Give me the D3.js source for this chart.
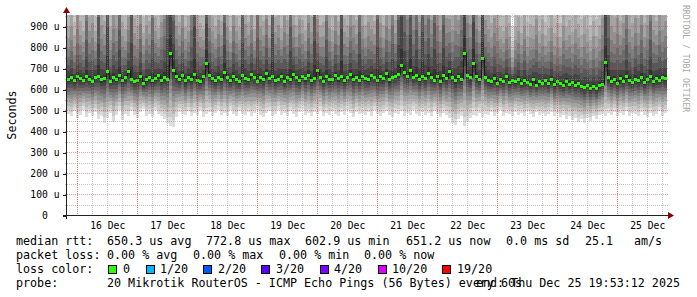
<!DOCTYPE html>
<html>
<head>
<meta charset="utf-8">
<script src="https://cdn.jsdelivr.net/npm/d3@7"></script>
<style>
  body { margin: 0; background: #fff; }
  svg text { font-family: "DejaVu Sans Mono", monospace; fill: #000; }
</style>
</head>
<body>
<div id="chart"></div>
<script>
// median rtt per 72-minute step (us)
const median = [
  648, 655, 641, 660, 652, 645, 662, 650, 638, 657,
  664, 646, 653, 686, 640, 658, 649, 668, 643, 655,
  684, 650, 636, 645, 660, 628, 648, 655, 641, 652,
  666, 644, 658, 650, 772, 690, 662, 647, 668, 641,
  656, 650, 672, 645, 638, 660, 724, 668, 652, 643,
  659, 648, 680, 655, 641, 662, 650, 636, 667, 652,
  646, 670, 657, 640, 655, 648, 675, 653, 661, 644,
  650, 664, 639, 657, 648, 672, 655, 642, 660, 651,
  668, 645, 654, 690, 658, 640, 662, 650, 647, 665,
  652, 660, 643, 656, 670, 649, 658, 645, 663, 654,
  648, 667, 655, 641, 660, 652, 675, 646, 658, 662,
  670, 714, 680, 662, 690, 655, 668, 648, 660, 652,
  675, 658, 645, 662, 640, 668, 652, 687, 657, 645,
  660, 650, 771, 668, 655, 724, 662, 650, 748, 658,
  645, 638, 652, 630, 647, 640, 660, 632, 645, 637,
  650, 628, 643, 635, 625, 646, 620, 638, 630, 642,
  627, 648, 622, 636, 630, 618, 640, 625, 633, 621,
  628, 612, 608, 620, 605, 615, 603, 618, 625, 729,
  655, 640, 648, 630, 652, 638, 660, 645, 632, 650,
  642, 656, 635, 648, 662, 640, 652, 645, 658, 651
];

// lowest ping per step (us)
const lowest = [
  480, 470, 495, 462, 478, 500, 468, 485, 472, 490,
  455, 470, 440, 462, 488, 445, 475, 500, 452, 480,
  470, 495, 478, 460, 490, 505, 472, 483, 465, 498,
  480, 470, 455, 440, 425, 418, 468, 490, 482, 475,
  495, 470, 488, 478, 500, 465, 480, 492, 470, 485,
  498, 476, 486, 470, 502, 480, 470, 495, 482, 478,
  490, 470, 485, 500, 476, 465, 488, 495, 472, 482,
  500, 478, 486, 470, 495, 482, 468, 490, 505, 476,
  485, 470, 492, 480, 500, 472, 488, 476, 495, 482,
  470, 490, 478, 500, 484, 466, 492, 480, 488, 475,
  490, 472, 498, 480, 470, 486, 495, 478, 468, 488,
  480, 495, 470, 486, 476, 500, 482, 472, 490, 478,
  488, 470, 495, 480, 466, 486, 475, 460, 440, 430,
  455, 470, 425, 445, 462, 478, 470, 488, 466, 480,
  475, 490, 470, 484, 498, 472, 486, 480, 470, 492,
  478, 488, 470, 495, 482, 466, 490, 476, 485, 470,
  480, 492, 470, 486, 465, 478, 458, 470, 452, 460,
  445, 455, 440, 462, 448, 470, 458, 475, 480, 472,
  488, 476, 492, 470, 484, 478, 495, 470, 486, 480,
  470, 490, 478, 465, 488, 472, 480, 494, 470, 485
];

// highest ping per step (us), mostly above the top of the graph
const highest = [
  1250, 1400, 1150, 1600, 1300, 1200, 2200, 1350, 1500, 1180,
  3200, 1450, 1300, 4200, 1250, 1600, 1400, 2600, 1300, 1200,
  1500, 3500, 1350, 1250, 1700, 1200, 1450, 1300, 2400, 1350,
  1200, 1500, 1800, 3800, 5000, 2800, 1400, 1300, 1600, 1250,
  1350, 2000, 4500, 1400, 1300, 1200, 3800, 1600, 1350, 1250,
  1500, 1300, 2800, 1400, 1200, 1650, 1350, 1250, 3200, 1450,
  1300, 1550, 1200, 2500, 1400, 1300, 1750, 1250, 4000, 1350,
  1450, 1200, 1600, 1300, 2900, 1400, 1250, 1550, 1300, 1200,
  1700, 1350, 3600, 1450, 1250, 1300, 2200, 1400, 1200, 1550,
  1300, 4400, 1350, 1250, 1600, 1450, 1300, 2700, 1400, 1250,
  1500, 1350, 1300, 3300, 1450, 1250, 1600, 1400, 2100, 1300,
  3000, 4600, 2400, 1800, 3500, 1600, 2600, 1500, 4200, 1700,
  2200, 1500, 3100, 1650, 1400, 2800, 1550, 1450, 1350, 1600,
  1500, 2000, 4800, 1700, 1450, 4000, 1600, 1350, 4500, 1500,
  1400, 1300, 1550, 1450, 1250, 1200, 1400, 1300, 900, 1250,
  1350, 1200, 1450, 1150, 1300, 1250, 1600, 1200, 1350, 1150,
  1250, 1400, 1200, 1300, 1150, 1500, 1250, 1350, 1200, 1450,
  1300, 1200, 1400, 1250, 1150, 1350, 1200, 1300, 1600, 4600,
  2400, 1450, 1350, 1600, 1300, 1500, 2000, 1400, 1300, 1550,
  1350, 1700, 1300, 1450, 2200, 1400, 1300, 1600, 1350, 1500
];

// axis ticks and labels
const yTicks = [0, 100, 200, 300, 400, 500, 600, 700, 800, 900];
const yTickLabels = ["0", "100 u", "200 u", "300 u", "400 u", "500 u", "600 u", "700 u", "800 u", "900 u"];
const dayLabels = ["16 Dec", "17 Dec", "18 Dec", "19 Dec", "20 Dec", "21 Dec", "22 Dec", "23 Dec", "24 Dec", "25 Dec"];

// legend texts
const rttStats = ["650.3 us avg", "772.8 us max", "602.9 us min", "651.2 us now", "0.0 ms sd", "25.1", "am/s"];
const lossStats = ["0.00 % avg", "0.00 % max", "0.00 % min", "0.00 % now"];
const lossLabels = ["0", "1/20", "2/20", "3/20", "4/20", "10/20", "19/20"];
const lossColors = ["#26ff00", "#00b8ff", "#0059ff", "#5e00ff", "#7e00ff", "#dd00ff", "#ff0000"];
const probeText = "20 Mikrotik RouterOS - ICMP Echo Pings (56 Bytes) every 60s";
const endText = "end: Thu Dec 25 19:53:12 2025";

// size
const width = 697;
const height = 297;
const plotLeft = 67, plotRight = 667, plotTop = 15, plotBottom = 215;
const yMax = 952.4;

const svg = d3.select("#chart")
    .append("svg")
    .attr("width", width)
    .attr("height", height);

// time range: 10 days ending at the graph end time
const endTime = new Date(Date.UTC(2025, 11, 25, 19, 53, 12));
const startTime = new Date(endTime - 10 * 24 * 3600 * 1000);
const stepMs = 72 * 60 * 1000;
const t = i => new Date(+startTime + i * stepMs);

const xScale = d3.scaleUtc().domain([startTime, endTime]).range([plotLeft, plotRight]);
const yScale = d3.scaleLinear().domain([0, yMax]).range([plotBottom, plotTop]);

svg.append("clipPath").attr("id", "clip")
    .append("rect")
    .attr("x", plotLeft).attr("y", plotTop)
    .attr("width", plotRight - plotLeft).attr("height", plotBottom - plotTop);

// smoke: 10 nested bands between pairs of sorted pings, smokeping greys
// (how far each ping pair sits between the median and the extreme ping)
const spreadUp = [1, 0.72, 0.55, 0.42, 0.32, 0.24, 0.17, 0.11, 0.06, 0.02];
const spreadDown = [1, 0.88, 0.76, 0.65, 0.55, 0.45, 0.36, 0.27, 0.18, 0.09];
const smoke = svg.append("g").attr("clip-path", "url(#clip)").attr("shape-rendering", "crispEdges");
const upper = (d, i, k) => yScale(Math.min(yMax, d + (highest[i] - d) * spreadUp[k]));
const lower = (d, i, k) => yScale(d - (d - lowest[i]) * spreadDown[k]);
spreadUp.forEach((g, k) => {
    const grey = Math.floor(190 / 10 * (10 - (k + 1))) + 50;
    smoke.append("g")
        .attr("fill", d3.rgb(grey, grey, grey))
        .selectAll("rect")
        .data(median)
        .join("rect")
        .attr("x", (d, i) => xScale(t(i)))
        .attr("width", (d, i) => xScale(t(i + 1)) - xScale(t(i)))
        .attr("y", (d, i) => upper(d, i, k))
        .attr("height", (d, i) => Math.max(0, lower(d, i, k) - upper(d, i, k)));
});

// dark step line joining the medians
smoke.append("path")
    .datum(median)
    .attr("fill", "none")
    .attr("stroke", "#1a1a1a")
    .attr("stroke-width", 1)
    .attr("d", d3.line()
        .x((d, i) => Math.round(xScale(t(i))) + 0.5)
        .y(d => Math.round(yScale(d)) + 0.5)
        .curve(d3.curveStepAfter));

// median, coloured by loss (all 0 here)
smoke.append("g")
    .attr("fill", lossColors[0])
    .selectAll("rect")
    .data(median)
    .join("rect")
    .attr("x", (d, i) => xScale(t(i)))
    .attr("width", (d, i) => xScale(t(i + 1)) - xScale(t(i)))
    .attr("y", d => Math.round(yScale(d)) - 1)
    .attr("height", 3);

// grid
const grid = svg.append("g").attr("shape-rendering", "crispEdges").attr("stroke-dasharray", "1,1");
const minorY = d3.range(50, yMax, 100);
const majorY = yTicks.slice(1);
const minorX = d3.utcHour.every(6).range(startTime, endTime);
const majorX = d3.utcDay.range(startTime, endTime);

grid.selectAll(".minx").data(minorX).join("line")
    .attr("x1", d => Math.round(xScale(d)) + 0.5).attr("x2", d => Math.round(xScale(d)) + 0.5)
    .attr("y1", plotTop).attr("y2", plotBottom + 2)
    .attr("stroke", "#8c8c8c").attr("stroke-opacity", 0.5);
grid.selectAll(".miny").data(minorY).join("line")
    .attr("x1", plotLeft - 2).attr("x2", plotRight + 2)
    .attr("y1", d => Math.round(yScale(d)) + 0.5).attr("y2", d => Math.round(yScale(d)) + 0.5)
    .attr("stroke", "#8c8c8c").attr("stroke-opacity", 0.5);
grid.selectAll(".majx").data(majorX).join("line")
    .attr("x1", d => Math.round(xScale(d)) + 0.5).attr("x2", d => Math.round(xScale(d)) + 0.5)
    .attr("y1", plotTop).attr("y2", plotBottom + 2)
    .attr("stroke", "#d23232").attr("stroke-opacity", 0.45);
grid.selectAll(".majy").data(majorY).join("line")
    .attr("x1", plotLeft - 2).attr("x2", plotRight + 2)
    .attr("y1", d => Math.round(yScale(d)) + 0.5).attr("y2", d => Math.round(yScale(d)) + 0.5)
    .attr("stroke", "#d23232").attr("stroke-opacity", 0.45);

// Y axis labels
const yAxis = svg.append("g")
    .attr("transform", `translate(${plotLeft - 0.5},0.5)`)
    .call(d3.axisLeft(yScale).tickValues(yTicks).tickSize(4).tickPadding(3)
        .tickFormat((d, i) => yTickLabels[i].padEnd(3, " ")));
yAxis.select(".domain").remove();
yAxis.selectAll("line").attr("stroke", "#222").attr("shape-rendering", "crispEdges");
yAxis.selectAll("text")
    .attr("font-family", "DejaVu Sans Mono")
    .attr("font-size", 9.7)
    .attr("xml:space", "preserve")
    .style("white-space", "pre");

// X axis labels at noon of each day
const noons = dayLabels.map((d, i) => new Date(Date.UTC(2025, 11, 16 + i, 12)));
const xAxis = svg.append("g")
    .attr("transform", `translate(0,${plotBottom})`)
    .call(d3.axisBottom(xScale).tickValues(noons).tickSize(0).tickPadding(7)
        .tickFormat((d, i) => dayLabels[i]));
xAxis.select(".domain").remove();
xAxis.selectAll("text").attr("font-family", "DejaVu Sans Mono").attr("font-size", 9.7);

// axis lines and arrows
svg.append("line")
    .attr("x1", plotLeft - 4).attr("x2", plotRight + 2)
    .attr("y1", plotBottom + 0.5).attr("y2", plotBottom + 0.5)
    .attr("stroke", "#222").attr("shape-rendering", "crispEdges");
svg.append("line")
    .attr("x1", plotLeft - 0.5).attr("x2", plotLeft - 0.5)
    .attr("y1", plotBottom + 4).attr("y2", plotTop - 2)
    .attr("stroke", "#222").attr("shape-rendering", "crispEdges");
svg.append("path")
    .attr("d", `M${plotRight + 1},${plotBottom - 3} L${plotRight + 7},${plotBottom + 0.5} L${plotRight + 1},${plotBottom + 4} Z`)
    .attr("fill", "#8b0000");
svg.append("path")
    .attr("d", `M${plotLeft - 4},${plotTop - 2} L${plotLeft - 0.5},${plotTop - 8} L${plotLeft + 3},${plotTop - 2} Z`)
    .attr("fill", "#8b0000");

// vertical title
svg.append("text")
    .attr("transform", `translate(16,${(plotTop + plotBottom) / 2}) rotate(-90)`)
    .attr("text-anchor", "middle")
    .style("font-size", "11.7px")
    .text("Seconds");

// watermark on the right
svg.append("text")
    .attr("transform", "translate(683,5) rotate(90)")
    .style("font-size", "8.1px")
    .style("fill", "#a8a8a8")
    .text("RRDTOOL / TOBI OETIKER");

// legend
const legend = svg.append("g").style("font-size", "11.7px");
const rttX = [107, 206, 305, 406, 506, 585, 634];
const lossX = [107, 193, 279, 364];
const swatchX = [108, 146, 203, 261, 320, 378, 442];
const swatchLabelX = [123, 160, 218, 276, 334, 392, 457];

legend.append("text").attr("x", 16).attr("y", 245).text("median rtt:");
legend.selectAll(".rtt").data(rttStats).join("text")
    .attr("x", (d, i) => rttX[i]).attr("y", 245).text(d => d);

legend.append("text").attr("x", 16).attr("y", 259).text("packet loss:");
legend.selectAll(".loss").data(lossStats).join("text")
    .attr("x", (d, i) => lossX[i]).attr("y", 259).text(d => d);

legend.append("text").attr("x", 16).attr("y", 273).text("loss color:");
legend.selectAll(".sw").data(lossColors).join("rect")
    .attr("x", (d, i) => swatchX[i] + 0.5).attr("y", 265.5)
    .attr("width", 8).attr("height", 8)
    .attr("fill", d => d).attr("stroke", "#000").attr("stroke-width", 1);
legend.selectAll(".swl").data(lossLabels).join("text")
    .attr("x", (d, i) => swatchLabelX[i]).attr("y", 273).text(d => d);

legend.append("text").attr("x", 16).attr("y", 287).text("probe:");
legend.append("text").attr("x", 107).attr("y", 287).text(probeText);
legend.append("text").attr("x", 680).attr("y", 287).attr("text-anchor", "end").text(endText);
</script>
</body>
</html>
